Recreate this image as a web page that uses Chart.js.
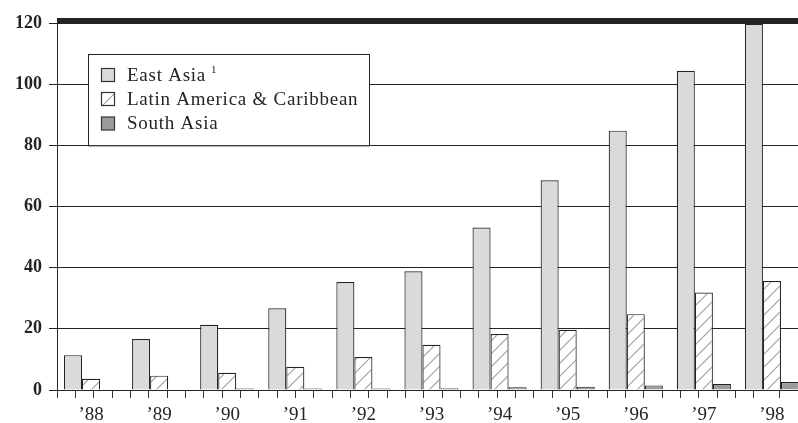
<!DOCTYPE html>
<html>
<head>
<meta charset="utf-8">
<script src="https://cdn.jsdelivr.net/npm/chart.js@4.4.1/dist/chart.umd.min.js"></script>
<style>
    html, body { margin: 0; padding: 0; background: #fff; overflow: hidden; }
    #wrap { position: relative; width: 806px; height: 423px; }
</style>
</head>
<body>
<div id="wrap"><canvas id="__chart_flows"></canvas></div>
<script>

/**
 * chart data
 */

const years = [ '\u201988', '\u201989', '\u201990', '\u201991', '\u201992', '\u201993', '\u201994', '\u201995', '\u201996', '\u201997', '\u201998' ];

const eastAsia = [ 11.4, 16.7, 21.3, 26.7, 35.3, 38.8, 53.1, 68.6, 84.8, 104.4, 119.7 ];

const latinAmerica = [ 3.7, 4.7, 5.6, 7.6, 10.8, 14.8, 18.3, 19.7, 24.8, 31.9, 35.6 ];

const southAsia = [ 0, 0, 0.5, 0.5, 0.5, 0.6, 0.9, 1.1, 1.5, 2.0, 2.6 ];

const yTicks = [ 0, 20, 40, 60, 80, 100, 120 ];

const seriesNames = [ 'East Asia', 'Latin America & Caribbean', 'South Asia' ];

document.addEventListener( 'DOMContentLoaded', function () {

    let chart = document.getElementById( '__chart_flows' );
    let ctx = chart.getContext( '2d' );

    const ink = '#242424';
    const serif = '"Liberation Serif", "Times New Roman", serif';

    /**
     * diagonal hatch for the middle series
     */

    function hatch() {

        let c = document.createElement( 'canvas' );
        c.width = c.height = 13;
        let g = c.getContext( '2d' );
        g.fillStyle = '#ffffff';
        g.fillRect( 0, 0, 13, 13 );
        g.strokeStyle = '#a2a2a2';
        g.lineWidth = 1.2;
        g.beginPath();
        g.moveTo( -1, 14 ); g.lineTo( 14, -1 );
        g.moveTo( -2, 2 ); g.lineTo( 2, -2 );
        g.moveTo( 11, 15 ); g.lineTo( 15, 11 );
        g.stroke();

        return ctx.createPattern( c, 'repeat' );

    }

    const fills = [ '#d9dadc', hatch(), '#9b9c9e' ];

    /**
     * thick top rule and boxed legend
     */

    const extras = {
        id: 'extras',
        afterDraw: ( c ) => {

            let g = c.ctx;
            let area = c.chartArea;
            let top = c.scales.y.getPixelForValue( 120 );

            g.save();

            g.fillStyle = ink;
            g.fillRect( area.left, top - 5, area.right - area.left, 5 );

            let bx = area.left + 31, by = 54;
            let bw = 281, bh = c.scales.y.getPixelForValue( 80 ) - by;

            g.fillStyle = '#ffffff';
            g.fillRect( bx, by, bw, bh );
            g.strokeStyle = ink;
            g.lineWidth = 1;
            g.strokeRect( bx + 0.5, by + 0.5, bw, bh );

            let rows = [ 75, 99, 123.5 ];

            c.data.datasets.forEach( ( ds, i ) => {

                g.fillStyle = fills[ i ];
                g.fillRect( bx + 13.5, rows[ i ] - 6.5, 13, 13 );
                g.strokeStyle = '#333';
                g.lineWidth = 1.2;
                g.strokeRect( bx + 13.5, rows[ i ] - 6.5, 13, 13 );

                g.fillStyle = ink;
                g.font = '19px ' + serif;
                g.letterSpacing = '0.75px';
                g.textBaseline = 'middle';
                g.textAlign = 'left';
                g.fillText( ds.label, bx + 39, rows[ i ] + 1 );

                if( i === 0 ) {

                    let w = g.measureText( ds.label ).width;
                    g.font = '11px ' + serif;
                    g.letterSpacing = '0px';
                    g.fillText( '1', bx + 39 + w + 5, rows[ i ] - 5 );

                }

            } );

            g.restore();

        }
    };

    /**
     * create new chart
     */

    new Chart( ctx, {
        type: 'bar',
        data: {
            labels: years,
            datasets: [ eastAsia, latinAmerica, southAsia ].map( ( d, i ) => ( {
                label: seriesNames[ i ],
                data: d,
                backgroundColor: fills[ i ],
                borderColor: ink,
                borderWidth: 1.2,
                borderSkipped: 'bottom',
                categoryPercentage: 0.795,
                barPercentage: 1
            } ) )
        },
        options: {
            responsive: true,
            maintainAspectRatio: false,
            animation: false,
            layout: {
                padding: { top: 23, left: 0, right: 0, bottom: 0 }
            },
            plugins: {
                legend: { display: false },
                tooltip: { enabled: false }
            },
            scales: {
                x: {
                    position: 'bottom',
                    weight: 2,
                    afterFit: ( s ) => { s.height = 25; },
                    border: { display: false },
                    grid: { display: false, drawTicks: false },
                    ticks: {
                        padding: 6,
                        color: ink,
                        font: { family: serif, size: 19 }
                    }
                },
                xt: {
                    type: 'linear',
                    axis: 'x',
                    display: true,
                    position: 'bottom',
                    weight: 1,
                    min: 0,
                    max: 39.84,
                    afterFit: ( s ) => { s.height = 8; },
                    border: { display: false },
                    grid: {
                        display: true,
                        drawOnChartArea: false,
                        drawTicks: true,
                        tickLength: 8,
                        color: '#333',
                        lineWidth: 1
                    },
                    ticks: {
                        display: false,
                        stepSize: 1,
                        maxTicksLimit: 60
                    }
                },
                y: {
                    min: 0,
                    max: 120,
                    afterFit: ( s ) => { s.width = 57; },
                    afterBuildTicks: ( s ) => { s.ticks = yTicks.map( v => ( { value: v } ) ); },
                    border: { display: true, color: ink, width: 1 },
                    grid: {
                        color: ink,
                        lineWidth: 1,
                        tickLength: 8
                    },
                    ticks: {
                        padding: 7,
                        color: ink,
                        font: { family: serif, size: 18, weight: 'bold' }
                    }
                }
            }
        },
        plugins: [ extras ]
    } );

} );

</script>
</body>
</html>
